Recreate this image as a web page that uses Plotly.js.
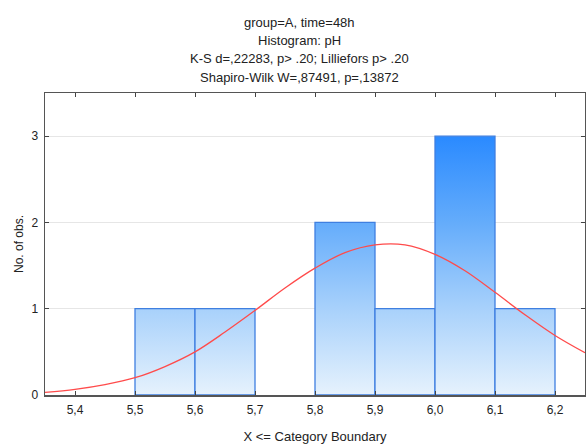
<!DOCTYPE html>
<html>
<head>
<meta charset="utf-8">
<script src="https://cdn.plot.ly/plotly-3.0.1.min.js"></script>
<style>html,body{margin:0;padding:0;background:#fff}#chart{width:586px;height:445px}</style>
</head>
<body>
<div id="chart"></div>
<script>
// Histogram bins (category boundaries) and counts
const binLower = [5.5, 5.6, 5.7, 5.8, 5.9, 6.0, 6.1];
const binUpper = [5.6, 5.7, 5.8, 5.9, 6.0, 6.1, 6.2];
const binCounts = [1, 1, 0, 2, 1, 3, 1];

// Fitted normal curve
const curveX = [5.35, 5.40, 5.45, 5.50, 5.55, 5.60, 5.65, 5.70, 5.75, 5.80, 5.85, 5.90, 5.95, 6.00, 6.05, 6.10, 6.15, 6.20, 6.25];
const curveY = [0.03, 0.065, 0.12, 0.20, 0.33, 0.50, 0.73, 0.98, 1.24, 1.47, 1.65, 1.74, 1.74, 1.63, 1.44, 1.19, 0.93, 0.69, 0.49];

const xTickVals = [5.4, 5.5, 5.6, 5.7, 5.8, 5.9, 6.0, 6.1, 6.2];
const yTickVals = [0, 1, 2, 3];

const titleLines = [
  "group=A, time=48h",
  "Histogram: pH",
  "K-S d=,22283, p> .20; Lilliefors p> .20",
  "Shapiro-Wilk W=,87491, p=,13872"
];

const traces = [];
for (let i = 0; i < binCounts.length; i++) {
  if (binCounts[i] <= 0) continue;
  const a = binLower[i], b = binUpper[i], c = binCounts[i];
  traces.push({
    type: 'scatter', mode: 'lines',
    x: [a, a, b, b, a], y: [0, c, c, 0, 0],
    fill: 'toself',
    fillgradient: {
      type: 'vertical', start: 0, stop: 3,
      colorscale: [[0, '#e6f2fd'], [0.333, '#a8d1fb'], [0.667, '#64acfb'], [1, '#2a8aff']]
    },
    line: {color: '#3f7fe0', width: 1.3},
    hoverinfo: 'skip', showlegend: false
  });
}
traces.push({
  type: 'scatter', mode: 'lines', x: curveX, y: curveY,
  line: {color: '#ff4b4b', width: 1.3, shape: 'spline', smoothing: 1},
  showlegend: false
});

const ann = titleLines.map((t, i) => ({
  text: t, xref: 'paper', yref: 'paper', x: 0.472, y: 1,
  yshift: [71, 53, 35, 16][i], xanchor: 'center', yanchor: 'middle',
  showarrow: false, font: {family: 'Liberation Sans, Arial, sans-serif', size: 13, color: '#222'}
}));

const layout = {
  width: 586, height: 445,
  margin: {l: 45, r: 1, t: 93, b: 50},
  paper_bgcolor: '#fff', plot_bgcolor: '#fff',
  separators: ', ',
  font: {family: 'Liberation Sans, Arial, sans-serif', size: 12, color: '#222'},
  annotations: ann,
  xaxis: {
    range: [5.35, 6.25], tickvals: xTickVals, tickformat: '.1f',
    ticks: 'inside', ticklen: 4, tickcolor: '#444', mirror: 'ticks',
    showline: true, linecolor: '#555', linewidth: 1.5,
    showgrid: false, zeroline: false, ticklabelstandoff: 3,
    title: {text: 'X <= Category Boundary', standoff: 16, font: {size: 13}}
  },
  yaxis: {
    range: [0, 3.5], tickvals: yTickVals,
    ticks: 'inside', ticklen: 4, tickcolor: '#444', mirror: 'ticks',
    showline: true, linecolor: '#555', linewidth: 1.5,
    showgrid: true, gridcolor: '#e6e6e6', gridwidth: 1, zeroline: false,
    ticklabelstandoff: 3,
    title: {text: 'No. of obs.', standoff: 5, font: {size: 12}}
  }
};

Plotly.newPlot('chart', traces, layout, {displayModeBar: false, staticPlot: true});
</script>
</body>
</html>
